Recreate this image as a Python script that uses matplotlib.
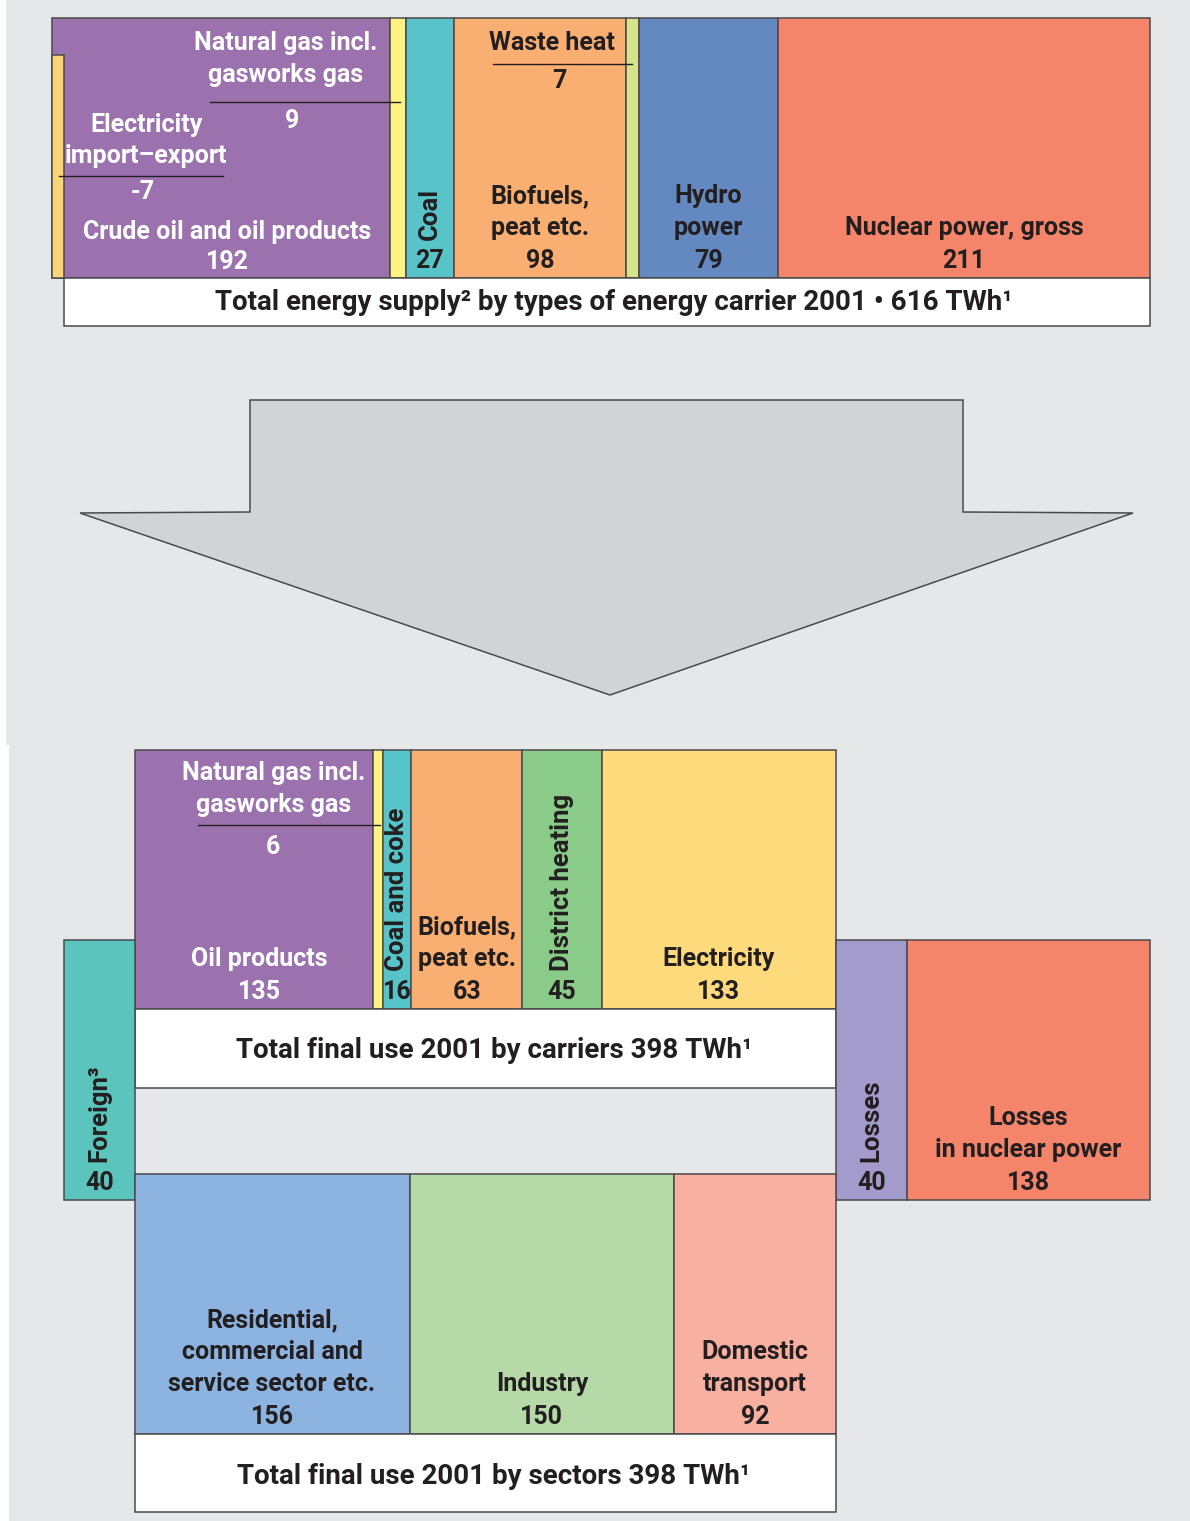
import matplotlib
matplotlib.use('Agg')
import matplotlib.pyplot as plt
from matplotlib.patches import Rectangle, Polygon

plt.rcParams['font.family'] = ['Roboto', 'DejaVu Sans']

# data (TWh)
supply_names = ['Crude oil and oil products', 'Natural gas', 'Coal', 'Biofuels,\npeat etc.',
                'Waste heat', 'Hydro\npower', 'Nuclear power, gross']
supply_vals = [192, 9, 27, 98, 7, 79, 211]
elec_import = -7
supply_total = 616

carrier_names = ['Oil products', 'Natural gas', 'Coal and coke', 'Biofuels,\npeat etc.',
                 'District heating', 'Electricity']
carrier_vals = [135, 6, 16, 63, 45, 133]
carrier_total = 398

foreign_val = 40
losses_val = 40
nuclear_loss_val = 138

sector_names = ['Residential,\ncommercial and\nservice sector etc.', 'Industry', 'Domestic\ntransport']
sector_vals = [156, 150, 92]
sector_total = 398

# colours
PURPLE = '#9b72ae'
C_SUPPLY = [PURPLE, '#fdf383', '#58c4c9', '#f9ae72', '#d6e38a', '#6488c0', '#f4856a']
C_ELEC = '#fbd679'
C_CARRIER = [PURPLE, '#fdf383', '#58c4c9', '#f9ae72', '#8bcb8a', '#fddb7c']
C_SECTOR = ['#8db4e0', '#b5daa7', '#f8b0a0']
C_FOREIGN = '#5bc5bd'
C_LOSS = '#a39bcb'
C_NUCLOSS = '#f4856a'
BG = '#e6e7e9'
ARROW = '#d1d3d5'
EDGE = '#4a4a4c'
DARK = '#231f20'
LW = 1.1
FS = 18

X_RIGHT = 1150
S = (X_RIGHT - 64) / supply_total  # px per TWh

fig = plt.figure(figsize=(11.9, 15.21), dpi=100)
ax = fig.add_axes([0, 0, 1, 1])
ax.set_xlim(0, 1190)
ax.set_ylim(1521, 0)
ax.axis('off')

ax.add_patch(Rectangle((6, 0), 1190, 745, fc=BG, ec='none'))
ax.add_patch(Rectangle((9, 745), 1190, 800, fc=BG, ec='none'))


def boxes(x0, top, bottom, vals, colors):
    spans = []
    x = x0
    for v, c in zip(vals, colors):
        w = v * S
        ax.add_patch(Rectangle((x, top), w, bottom - top, fc=c, ec=EDGE, lw=LW))
        spans.append((x, x + w))
        x += w
    return spans


def txt(x, y, s, color=DARK, size=FS, **kw):
    ax.text(x, y, s, ha='center', va='center', color=color, fontsize=size,
            fontweight='bold', **kw)


def name_value(x, bottom, name, value, color=DARK):
    txt(x, bottom - 17, str(value), color=color)
    lines = name.split('\n')
    for i, line in enumerate(reversed(lines)):
        txt(x, bottom - 50 - 32 * i, line, color=color)


def vlabel(x, bottom, name, value, color=DARK):
    txt(x, bottom - 17, str(value), color=color)
    ax.text(x, bottom - 38, name, rotation=90, ha='center', va='bottom', color=color,
            fontsize=FS + 0.5, fontweight='bold')


def rule(x1, x2, y):
    ax.plot([x1, x2], [y, y], color=DARK, lw=1.0)


# ---- top: total energy supply ----
TOP, BOT = 18, 278
x0 = X_RIGHT - sum(supply_vals) * S
sp = boxes(x0, TOP, BOT, supply_vals, C_SUPPLY)
ax.add_patch(Rectangle((x0, 55), -elec_import * S, BOT - 55, fc=C_ELEC, ec=EDGE, lw=LW))
ax.add_patch(Rectangle((x0 - elec_import * S, BOT), X_RIGHT - x0 + elec_import * S, 48,
                       fc='white', ec=EDGE, lw=LW))

oil_c = (sp[0][0] - elec_import * S + sp[0][1]) / 2
txt(oil_c, 262, str(supply_vals[0]), color='white')
txt(oil_c, 232, supply_names[0], color='white')
txt(286, 43, 'Natural gas incl.', color='white')
txt(286, 75, 'gasworks gas', color='white')
rule(210, 400, 102)
txt(292, 121, str(supply_vals[1]), color='white')
txt(146, 125, 'Electricity', color='white')
txt(146, 156, 'import–export', color='white')
rule(59, 223, 176)
txt(143, 192, str(elec_import), color='white')

vlabel((sp[2][0] + sp[2][1]) / 2, BOT, supply_names[2], supply_vals[2])
name_value((sp[3][0] + sp[3][1]) / 2, BOT, supply_names[3], supply_vals[3])
txt(552, 43, supply_names[4])
rule(493, 632, 64)
txt(559, 81, str(supply_vals[4]))
name_value((sp[5][0] + sp[5][1]) / 2, BOT, supply_names[5], supply_vals[5])
name_value((sp[6][0] + sp[6][1]) / 2, BOT, supply_names[6], supply_vals[6])
txt(614, 303, 'Total energy supply² by types of energy carrier 2001 • 616 TWh¹', size=FS + 2)

# ---- arrow ----
ax.add_patch(Polygon([(250, 400), (963, 400), (963, 512), (1133, 513), (610, 695),
                      (80, 513), (250, 512)], closed=True, fc=ARROW, ec=EDGE, lw=LW))

# ---- carriers ----
CT, CB = 750, 1009
cx0 = X_RIGHT - (carrier_total + losses_val + nuclear_loss_val) * S
cs = boxes(cx0, CT, CB, carrier_vals, C_CARRIER)
ax.add_patch(Rectangle((cx0, CB), carrier_total * S, 79, fc='white', ec=EDGE, lw=LW))
fs_ = boxes(cx0 - foreign_val * S, 940, 1200, [foreign_val], [C_FOREIGN])
ls = boxes(cs[-1][1], 940, 1200, [losses_val, nuclear_loss_val], [C_LOSS, C_NUCLOSS])

name_value((cs[0][0] + cs[0][1]) / 2 + 6, CB, carrier_names[0], carrier_vals[0], color='white')
txt(274, 773, 'Natural gas incl.', color='white')
txt(274, 805, 'gasworks gas', color='white')
rule(198, 380, 825)
txt(273, 847, str(carrier_vals[1]), color='white')
vlabel((cs[2][0] + cs[2][1]) / 2, CB, carrier_names[2], carrier_vals[2])
name_value((cs[3][0] + cs[3][1]) / 2, CB, carrier_names[3], carrier_vals[3])
vlabel((cs[4][0] + cs[4][1]) / 2, CB, carrier_names[4], carrier_vals[4])
name_value((cs[5][0] + cs[5][1]) / 2, CB, carrier_names[5], carrier_vals[5])
txt(494, 1051, 'Total final use 2001 by carriers 398 TWh¹', size=FS + 2)

vlabel((fs_[0][0] + fs_[0][1]) / 2, 1200, 'Foreign³', foreign_val)
vlabel((ls[0][0] + ls[0][1]) / 2, 1200, 'Losses', losses_val)
name_value((ls[1][0] + ls[1][1]) / 2, 1200, 'Losses\nin nuclear power', nuclear_loss_val)

# ---- sectors ----
ST, SB = 1174, 1434
ss = boxes(cx0, ST, SB, sector_vals, C_SECTOR)
ax.add_patch(Rectangle((cx0, SB), sector_total * S, 78, fc='white', ec=EDGE, lw=LW))
for (a, b), n, v in zip(ss, sector_names, sector_vals):
    name_value((a + b) / 2, SB, n, v)
txt(494, 1476, 'Total final use 2001 by sectors 398 TWh¹', size=FS + 2)

fig.savefig('out.png', dpi=100)
